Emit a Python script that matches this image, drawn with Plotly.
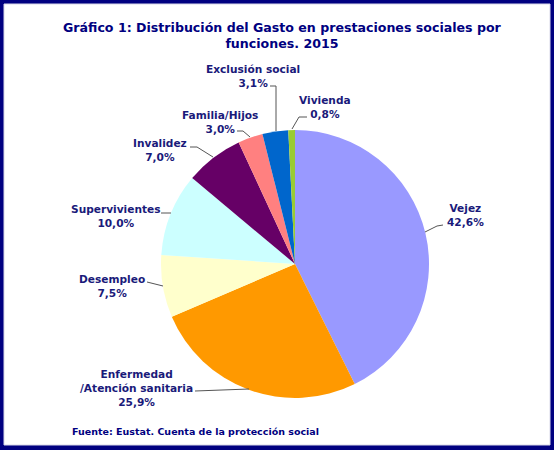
import plotly.graph_objects as go

WIDTH = 554
HEIGHT = 450

categories = [
    "Vejez",
    "Enfermedad<br>/Atención sanitaria",
    "Desempleo",
    "Supervivientes",
    "Invalidez",
    "Familia/Hijos",
    "Exclusión social",
    "Vivienda",
]
values = [42.6, 25.9, 7.5, 10.0, 7.0, 3.0, 3.1, 0.8]
value_labels = ["42,6%", "25,9%", "7,5%", "10,0%", "7,0%", "3,0%", "3,1%", "0,8%"]
colors = ["#9999FF", "#FF9900", "#FFFFCC", "#CCFFFF", "#660066", "#FF8080", "#0066CC", "#99CC33"]

# label centres in pixels, same order as categories
label_pos = [(465, 215), (136, 388), (112, 286), (116, 216), (160, 150), (220, 122), (253, 76), (325, 107)]

# leader lines in pixels
leaders = [
    [(425, 232), (437, 226), (443, 225)],
    [(195, 391), (249, 389)],
    [(147, 282), (163, 286)],
    [(161, 213), (171, 213)],
    [(190, 147), (197, 147), (213, 157)],
    [(237, 131), (243, 131), (250, 137)],
    [(270, 86), (276, 86), (276, 131)],
    [(307, 117), (299, 117), (292, 129)],
]


def px(x):
    return x / WIDTH


def py(y):
    return 1 - y / HEIGHT


navy = "#000080"
label_color = "#1A1A7A"
font_name = "DejaVu Sans"

fig = go.Figure()
fig.add_trace(
    go.Pie(
        labels=categories,
        values=values,
        sort=False,
        direction="clockwise",
        rotation=0,
        textinfo="none",
        hoverinfo="label+percent",
        marker=dict(colors=colors, line=dict(width=0)),
        domain=dict(x=[px(295 - 134), px(295 + 134)], y=[py(264 + 134), py(264 - 134)]),
        showlegend=False,
    )
)

# white panel inside the navy frame
fig.add_shape(
    type="rect", xref="paper", yref="paper", layer="below",
    x0=px(4), x1=px(550), y0=py(445), y1=py(4),
    fillcolor="white", line=dict(color="#D8D8E8", width=1),
)

for points in leaders:
    for a, b in zip(points[:-1], points[1:]):
        fig.add_shape(
            type="line", xref="paper", yref="paper",
            x0=px(a[0]), y0=py(a[1]), x1=px(b[0]), y1=py(b[1]),
            line=dict(color="#555555", width=1),
        )

for name, pct, (x, y) in zip(categories, value_labels, label_pos):
    fig.add_annotation(
        x=px(x), y=py(y), xref="paper", yref="paper",
        xanchor="center", yanchor="middle",
        text=f"<b>{name}<br>{pct}</b>",
        showarrow=False, align="center",
        font=dict(family=font_name, size=10.6, color=label_color),
    )

fig.add_annotation(
    x=px(282), y=py(35.5), xref="paper", yref="paper",
    xanchor="center", yanchor="middle",
    text="<b>Gráfico 1: Distribución del Gasto en prestaciones sociales por<br>funciones. 2015</b>",
    showarrow=False, align="center",
    font=dict(family=font_name, size=12.6, color=navy),
)
fig.add_annotation(
    x=px(70), y=py(431), xref="paper", yref="paper",
    xanchor="left", yanchor="middle",
    text="<b>Fuente: Eustat. Cuenta de la protección social</b>",
    showarrow=False, align="left",
    font=dict(family=font_name, size=9.5, color=navy),
)

fig.update_layout(
    width=WIDTH,
    height=HEIGHT,
    margin=dict(l=0, r=0, t=0, b=0),
    paper_bgcolor=navy,
)

fig.write_html(
    "out.html",
    config=dict(displayModeBar=False),
    post_script="document.body.style.margin = '0';",
)
